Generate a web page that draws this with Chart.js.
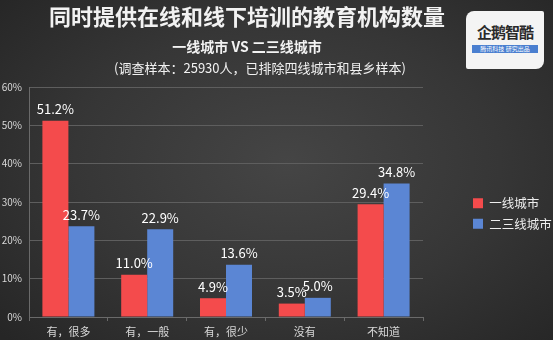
<!DOCTYPE html>
<html>
<head>
<meta charset="utf-8">
<script src="https://cdn.jsdelivr.net/npm/chart.js@4.4.1/dist/chart.umd.min.js"></script>
<style>
    html, body { margin: 0; padding: 0; }
    body {
        width: 553px; height: 340px; overflow: hidden; position: relative;
        background: radial-gradient(ellipse 70% 75% at 52% 48%, #454545 0%, #363636 55%, #262626 100%);
        font-family: "Noto Sans CJK SC", "Noto Sans", sans-serif;
    }
    #caja { position: absolute; left: 0; top: 0; width: 553px; height: 340px; }
    /* logo de la esquina */
    .logo {
        position: absolute; left: 466px; top: 11px; width: 78px; height: 58px;
        background: #f4f4f4; border-radius: 8px 2px 8px 2px; text-align: center;
    }
    .logo .nombre { font-size: 15px; font-weight: bold; color: #2a2a2a; margin-top: 12px; line-height: 18px; letter-spacing: -1px; }
    .logo .franja { margin: 4px 6px 0 6px; background: #4a7fd0; color: #fff; font-size: 6px; line-height: 8px; }
</style>
</head>
<body>
<div id="caja"><canvas id="grafico" width="553" height="340"></canvas></div>
<div class="logo"><div class="nombre">企鹅智酷</div><div class="franja">腾讯科技 研究出品</div></div>
<script>
// ==========================================
// Datos del gráfico
// ==========================================
const categorias = ['有，很多', '有，一般', '有，很少', '没有', '不知道'];
const ciudadesPrimerNivel = [51.2, 11.0, 4.9, 3.5, 29.4];
const ciudadesSegundoTercer = [23.7, 22.9, 13.6, 5.0, 34.8];
const nombresSeries = ['一线城市', '二三线城市'];
const ticksEjeY = [0, 10, 20, 30, 40, 50, 60];

const tituloPrincipal = '同时提供在线和线下培训的教育机构数量';
const subtitulo = '一线城市 VS 二三线城市';
const notaMuestra = '(调查样本：25930人，已排除四线城市和县乡样本)';

const FUENTE = '"Noto Sans CJK SC", "Noto Sans", sans-serif';

// Cabecera con los tres títulos
const pluginCabecera = {
    id: 'cabecera',
    beforeDraw(chart) {
        const ctx = chart.ctx;
        ctx.save();
        ctx.textAlign = 'center';
        ctx.textBaseline = 'middle';
        ctx.fillStyle = '#f2f2f2';
        ctx.font = 'bold 22px ' + FUENTE;
        ctx.fillText(tituloPrincipal, 247, 17);
        ctx.font = 'bold 14px ' + FUENTE;
        ctx.fillText(subtitulo, 247, 47);
        ctx.font = '13px ' + FUENTE;
        ctx.fillText(notaMuestra, 260, 68);
        ctx.restore();
    }
};

// Etiquetas de valor encima de cada barra
const pluginEtiquetas = {
    id: 'etiquetas',
    afterDatasetsDraw(chart) {
        const ctx = chart.ctx;
        ctx.save();
        ctx.textAlign = 'center';
        ctx.textBaseline = 'bottom';
        ctx.fillStyle = '#ffffff';
        ctx.font = '13px ' + FUENTE;
        chart.data.datasets.forEach((ds, i) => {
            chart.getDatasetMeta(i).data.forEach((barra, j) => {
                ctx.fillText(ds.data[j].toFixed(1) + '%', barra.x, barra.y - 5);
            });
        });
        ctx.restore();
    }
};

new Chart(document.getElementById('grafico'), {
    type: 'bar',
    data: {
        labels: categorias,
        datasets: [
            { label: nombresSeries[0], data: ciudadesPrimerNivel, backgroundColor: '#f44b4c' },
            { label: nombresSeries[1], data: ciudadesSegundoTercer, backgroundColor: '#5b86d4' }
        ]
    },
    options: {
        responsive: false,
        animation: false,
        categoryPercentage: 0.66,
        barPercentage: 1.0,
        layout: { padding: { top: 87, bottom: 0, left: 0, right: 0 } },
        scales: {
            x: {
                afterFit(s) { s.height = 23; },
                grid: { drawOnChartArea: false, drawTicks: true, tickLength: 4, color: '#6a6a6a' },
                border: { color: '#6a6a6a' },
                ticks: { color: '#d8d8d8', font: { size: 11, family: FUENTE }, padding: 4 }
            },
            y: {
                min: 0, max: 60,
                afterBuildTicks(s) { s.ticks = ticksEjeY.map(v => ({ value: v })); },
                afterFit(s) { s.width = 29; },
                grid: { color: '#5e5e5e', drawTicks: false },
                border: { color: '#6a6a6a' },
                ticks: { color: '#d8d8d8', padding: 7, font: { size: 10, family: FUENTE }, callback: v => v + '%' }
            },
            // eje vacío para dejar hueco antes de la leyenda
            hueco: {
                type: 'linear', position: 'right', display: true,
                afterFit(s) { s.width = 42; },
                grid: { display: false }, border: { display: false }, ticks: { display: false }
            }
        },
        plugins: {
            legend: {
                position: 'right', align: 'center', maxWidth: 88,
                labels: { boxWidth: 10, boxHeight: 10, padding: 8, color: '#eeeeee', font: { size: 12.5, family: FUENTE } }
            },
            tooltip: { enabled: false }
        }
    },
    plugins: [pluginCabecera, pluginEtiquetas]
});
</script>
</body>
</html>
